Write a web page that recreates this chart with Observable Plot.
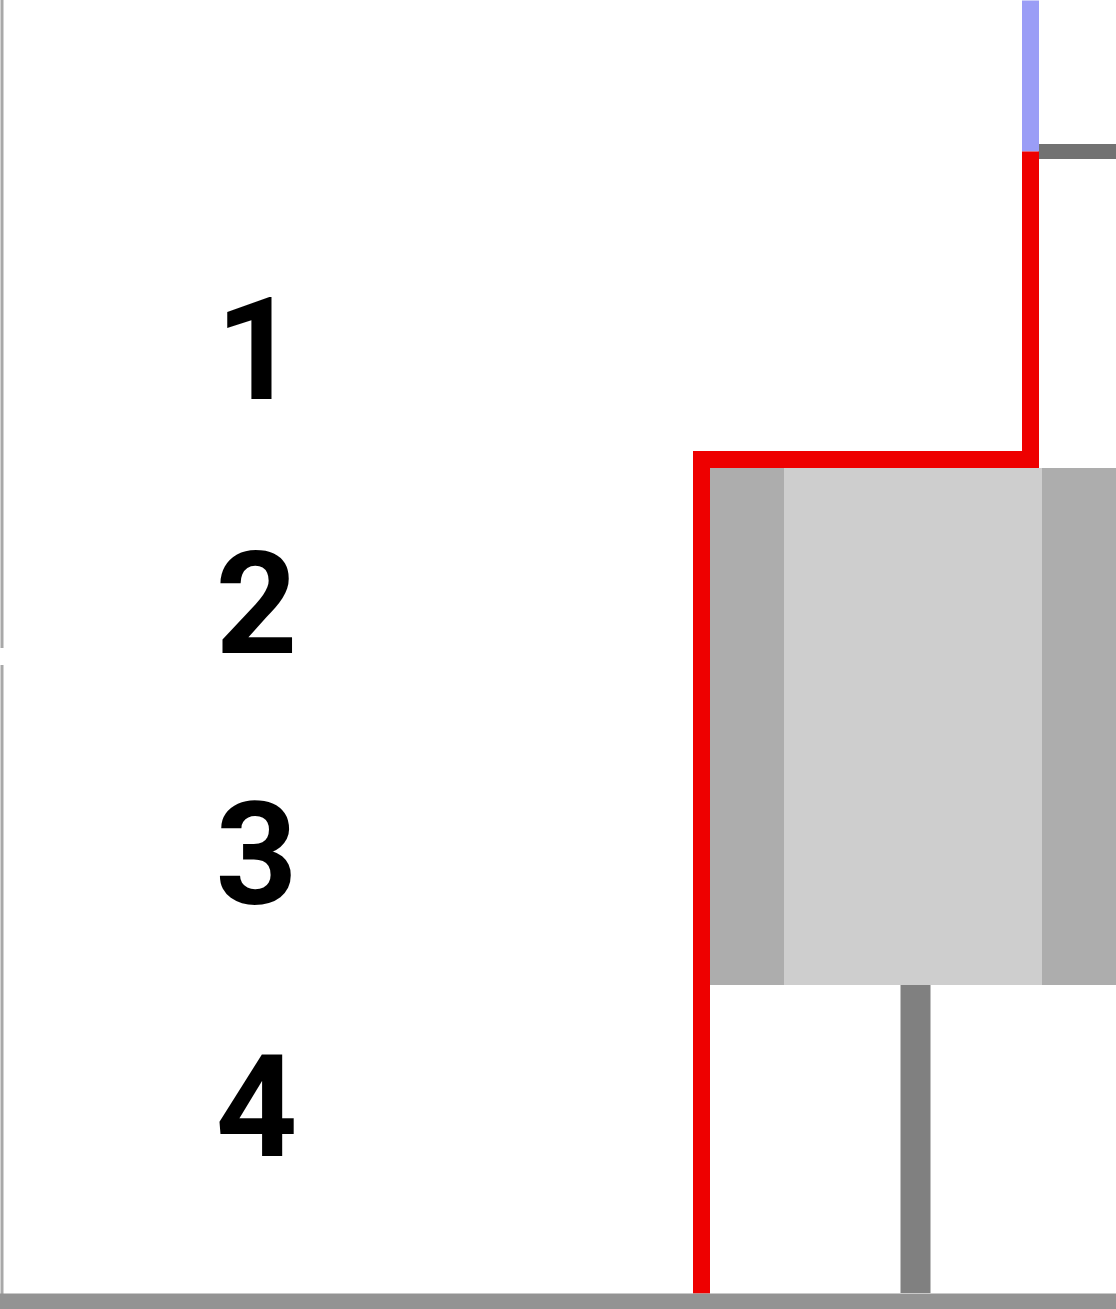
<!DOCTYPE html>
<html>
<head>
<meta charset="utf-8">
<script src="https://cdn.jsdelivr.net/npm/d3@7"></script>
<script src="https://cdn.jsdelivr.net/npm/@observablehq/plot@0.6"></script>
<style>
  html, body { margin: 0; padding: 0; background: #fff; }
  #chart svg { display: block; }
</style>
</head>
<body>
<div id="chart"></div>
<script>
// Row labels and their baselines
const rowLabels = ["1", "2", "3", "4"];
const rowBaselines = [398, 652, 903, 1155];
const labelX = 256;

// Red step path (vertices)
const redPathX = [701, 701, 1030, 1030];
const redPathY = [1293, 459, 459, 151];

// Blue continuation
const bluePathX = [1030, 1030];
const bluePathY = [151, 0];

// Gray horizontal branch at top right
const grayBranchX = [1038, 1116];
const grayBranchY = [151, 151];

// Box bands (x1, x2, tone) spanning y from boxTop to boxBottom
const boxBandX1 = [700, 784, 1042];
const boxBandX2 = [784, 1042, 1116];
const boxBandTone = ["dark", "light", "dark"];
const boxTop = 468;
const boxBottom = 985;

// Gray stem below the box
const stemX = 915;
const stemY = [985, 1293];

// Frame lines
const leftAxisY = [[0, 648], [665, 1300]];
const baseY = 1301;

const toneColor = {dark: "#adadad", light: "#cecece"};

const bands = boxBandX1.map((x1, i) => ({x1, x2: boxBandX2[i], tone: boxBandTone[i]}));
const redPath = redPathX.map((x, i) => ({x, y: redPathY[i]}));
const bluePath = bluePathX.map((x, i) => ({x, y: bluePathY[i]}));
const grayBranch = grayBranchX.map((x, i) => ({x, y: grayBranchY[i]}));
const labels = rowLabels.map((t, i) => ({t, y: rowBaselines[i]}));

const chart = Plot.plot({
  width: 1116,
  height: 1309,
  margin: 0,
  x: {domain: [0, 1116], range: [0, 1116], axis: null},
  y: {domain: [0, 1309], range: [0, 1309], axis: null},
  style: {background: "#fff"},
  marks: [
    Plot.rect(bands, {x1: "x1", x2: "x2", y1: boxTop, y2: boxBottom, fill: d => toneColor[d.tone], inset: 0}),
    Plot.ruleX([stemX], {y1: stemY[0], y2: stemY[1], stroke: "#808080", strokeWidth: 30}),
    Plot.line(grayBranch, {x: "x", y: "y", stroke: "#727272", strokeWidth: 15, strokeLinecap: "butt"}),
    Plot.line(bluePath, {x: "x", y: "y", stroke: "#9a9df6", strokeWidth: 17, strokeLinecap: "butt"}),
    Plot.line(redPath, {x: "x", y: "y", stroke: "#ee0000", strokeWidth: 17,
      strokeLinejoin: "miter", strokeLinecap: "butt", strokeMiterlimit: 10, curve: "linear"}),
    Plot.ruleX([1.5, 1.5], {y1: leftAxisY.map(d => d[0]), y2: leftAxisY.map(d => d[1]), stroke: "#a8a8a8", strokeWidth: 3}),
    Plot.ruleY([baseY], {x1: 0, x2: 1116, stroke: "#939393", strokeWidth: 16}),
    Plot.text(labels, {x: labelX, y: "y", text: "t", lineAnchor: "bottom", textAnchor: "middle",
      fontSize: 143, fontWeight: 700, fontFamily: "Roboto", fill: "#000"})
  ]
});
document.getElementById("chart").appendChild(chart);
</script>
</body>
</html>
